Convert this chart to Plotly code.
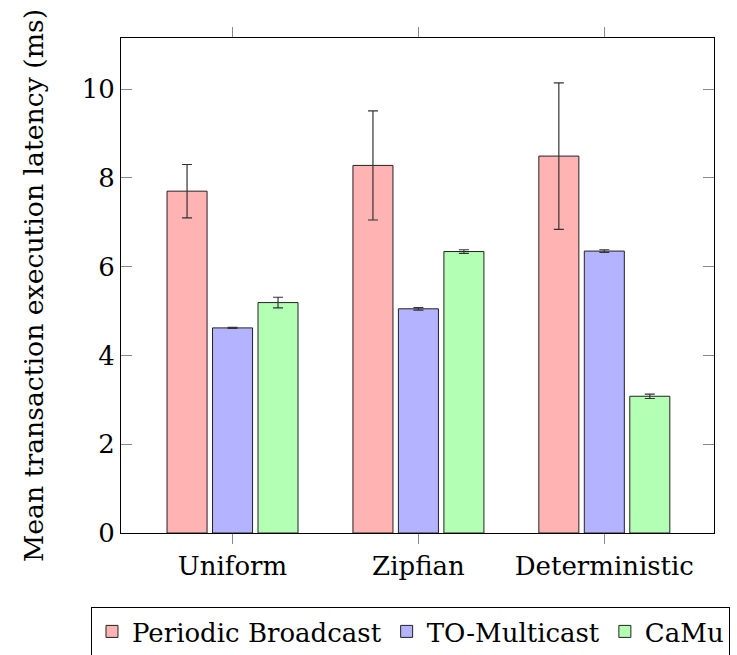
import plotly.graph_objects as go

categories = ["Uniform", "Zipfian", "Deterministic"]
series_names = ["Periodic Broadcast", "TO-Multicast", "CaMu"]
pb_values = [7.70, 8.28, 8.49]
pb_errors = [0.60, 1.23, 1.65]
to_values = [4.62, 5.05, 6.35]
to_errors = [0.01, 0.03, 0.03]
camu_values = [5.19, 6.34, 3.08]
camu_errors = [0.12, 0.04, 0.05]
y_ticks = [0, 2, 4, 6, 8, 10]

fills = ["#ffb3b3", "#b3b3ff", "#b3ffb3"]
FONT = "DejaVu Serif, Liberation Serif, serif"

fig = go.Figure()
for name, vals, errs, col in zip(series_names,
                                 [pb_values, to_values, camu_values],
                                 [pb_errors, to_errors, camu_errors],
                                 fills):
    fig.add_trace(go.Bar(
        x=categories, y=vals, name=name,
        marker=dict(color=col, line=dict(color="#222222", width=1)),
        error_y=dict(type="data", array=errs, visible=True,
                     color="#333333", thickness=1.2, width=5),
    ))

fig.update_layout(
    width=737, height=655,
    margin=dict(l=121, r=23, t=38, b=122, autoexpand=False),
    plot_bgcolor="white", paper_bgcolor="white",
    barmode="group", bargap=0.266, bargroupgap=0.12,
    font=dict(family=FONT, size=25, color="black"),
    showlegend=True,
    legend=dict(orientation="h", x=-0.0506, y=-0.1495,
                xanchor="left", yanchor="top",
                bordercolor="black", borderwidth=1,
                font=dict(family=FONT, size=26),
                itemwidth=30, tracegroupgap=0),
)
fig.update_xaxes(
    range=[-0.6, 2.59],
    showline=True, linecolor="black", linewidth=1, mirror="allticks",
    ticks="outside", ticklen=10, tickcolor="#888888", tickwidth=1,
    showgrid=False, zeroline=False,
    tickfont=dict(family=FONT, size=26),
)
fig.update_yaxes(
    range=[0, 11.15],
    tickvals=y_ticks,
    title=dict(text="Mean transaction execution latency (ms)",
               font=dict(family=FONT, size=26.7), standoff=30),
    showline=True, linecolor="black", linewidth=1, mirror="allticks",
    ticks="inside", ticklen=11, tickcolor="#888888", tickwidth=1,
    showgrid=False, zeroline=False,
    tickfont=dict(family=FONT, size=26),
)

fig.write_html("out.html")
